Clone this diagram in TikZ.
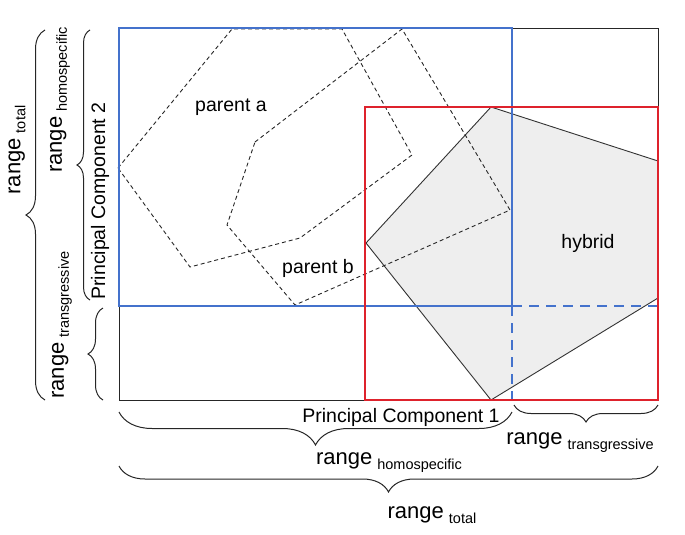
\documentclass[tikz,border=0pt]{standalone}
\usepackage{fontspec}
\setmainfont{Liberation Sans}
\usepackage{tikz}
\usetikzlibrary{decorations.pathreplacing}
\definecolor{azul}{RGB}{68,114,204}
\definecolor{rojo}{RGB}{222,34,44}
\newcommand{\rango}[1]{{\fontsize{22}{22}\selectfont range}\hspace{5pt}\raisebox{-5pt}{\fontsize{14.5}{15}\selectfont #1}}
\tikzstyle{marco} = [draw=black!85, line width=0.9pt]
\tikzstyle{hibrido} = [draw=black!80, fill=gray!13, line width=0.9pt]
\tikzstyle{progenitor} = [draw=black!85, dash pattern=on 4pt off 3pt, line width=0.9pt]
\tikzstyle{homo} = [draw=azul, line width=2.3pt]
\tikzstyle{trans} = [draw=azul, line width=2.3pt, dash pattern=on 10pt off 7pt]
\tikzstyle{caja} = [draw=rojo, line width=2.3pt]
\tikzstyle{llave} = [decorate, draw=black!85, line width=1pt]
\tikzstyle{rotulo} = [font=\fontsize{19.5}{20}\selectfont, inner sep=1pt]

\begin{document}
\begin{tikzpicture}[x=1pt, y=-1pt]
		\useasboundingbox (0,0) rectangle (685,535);
		% ejes
		\draw[marco] (119,28) rectangle (658,400);
		\draw[hibrido] (491,107) -- (658,161) -- (658,298) -- (491,400) -- (366,243) -- cycle;
		\draw[progenitor] (118,168) -- (232,29) -- (342,29) -- (412,155) -- (300,238) -- (190,267) -- cycle;
		\draw[progenitor] (255,142) -- (402,29) -- (510,210) -- (295,305) -- (227,225) -- cycle;
		\draw[homo] (119,28) rectangle (512,306);
		\draw[trans] (512,306) -- (658,306) (512,306) -- (512,400);
		\draw[caja] (365,107) rectangle (658,400);
		\node[rotulo] (pa) at (231,107) {parent a};
		\node[rotulo] (pb) at (318,268) {parent b};
		\node[rotulo] (hy) at (588,243) {hybrid};
		\node[rotulo, rotate=90] (pc2) at (100,201) {Principal Component 2};
		\node[rotulo] (pc1) at (401,417) {Principal Component 1};
		% llaves
		\draw[llave, decoration={brace, amplitude=33pt}] (512,412) -- (119,412);
		\draw[llave, decoration={brace, amplitude=17pt}] (658,405) -- (514,405);
		\draw[llave, decoration={brace, amplitude=26pt}] (658,466) -- (119,466);
		\draw[llave, decoration={brace, amplitude=19pt}] (45,400) -- (45,30);
		\draw[llave, decoration={brace, amplitude=13pt}] (90,300) -- (90,30);
		\draw[llave, decoration={brace, amplitude=15pt}] (103,400) -- (103,308);
		\node[rotate=90] (rt2) at (17,150) {\rango{total}};
		\node[rotate=90] (rh2) at (60,100) {\rango{homospecific}};
		\node[rotate=90] (rr2) at (62,325) {\rango{transgressive}};
		\node (rh1) at (389,463) {\rango{homospecific}};
		\node (rr1) at (580,443) {\rango{transgressive}};
		\node (rt1) at (432,515) {\rango{total}};
	\end{tikzpicture}
\end{document}
